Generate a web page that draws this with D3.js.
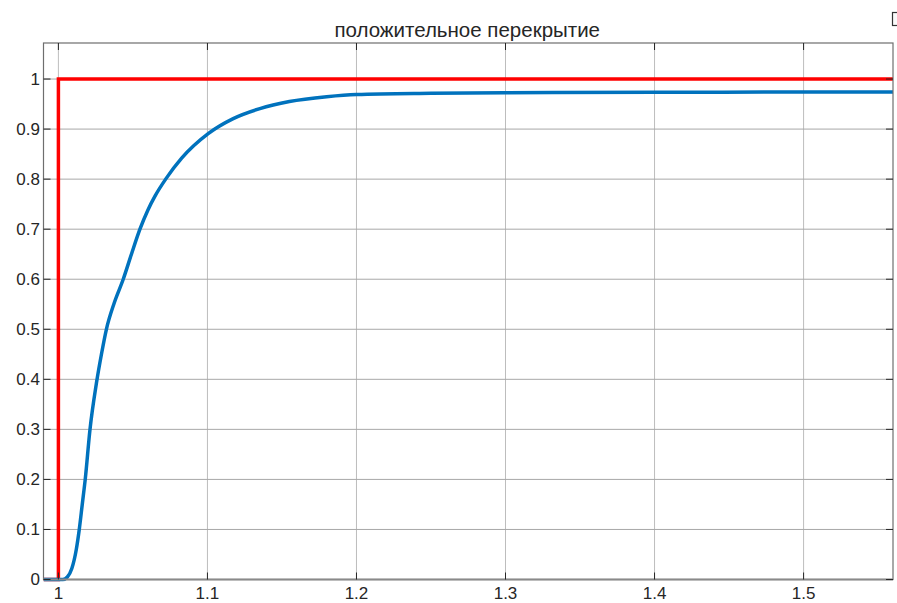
<!DOCTYPE html>
<html>
<head>
<meta charset="utf-8">
<script src="https://d3js.org/d3.v7.min.js"></script>
<style>
  html, body { margin: 0; padding: 0; background: #fff; }
  svg { display: block; }
  text { font-family: "Liberation Sans", Arial, Helvetica, sans-serif; fill: #262626; }
</style>
</head>
<body>
<svg id="chart" width="897" height="603"></svg>
<script>
// ---- data ----
const title = "положительное перекрытие";
const xTicks = [1, 1.1, 1.2, 1.3, 1.4, 1.5];
const xTickLabels = ["1", "1.1", "1.2", "1.3", "1.4", "1.5"];
const yTicks = [0, 0.1, 0.2, 0.3, 0.4, 0.5, 0.6, 0.7, 0.8, 0.9, 1];
const yTickLabels = ["0", "0.1", "0.2", "0.3", "0.4", "0.5", "0.6", "0.7", "0.8", "0.9", "1"];

// input step (red)
const stepT = [0.99, 1.0, 1.0, 1.56];
const stepV = [0, 0, 1, 1];

// response (blue)
const respT = [0.99, 1.003, 1.006, 1.009, 1.012, 1.014, 1.016, 1.018, 1.0212, 1.0255, 1.029, 1.0322, 1.0375, 1.0435, 1.049, 1.0547, 1.060, 1.0648, 1.0722, 1.0827, 1.1005, 1.1173, 1.1352, 1.155, 1.18, 1.2, 1.25, 1.3, 1.4, 1.5, 1.56];
const respV = [0, 0, 0.005, 0.022, 0.06, 0.1, 0.15, 0.2, 0.3, 0.392, 0.452, 0.5, 0.553, 0.6, 0.65, 0.7, 0.738, 0.766, 0.801, 0.842, 0.891, 0.921, 0.941, 0.955, 0.9646, 0.969, 0.9715, 0.9728, 0.9735, 0.974, 0.974];

const xDomain = [0.99, 1.56];
const yDomain = [0, 1.072];

// ---- layout ----
const L = 43.5, R = 893, T = 43, B = 579.5;
const svg = d3.select("#chart");
const x = d3.scaleLinear().domain(xDomain).range([L, R]);
const y = d3.scaleLinear().domain(yDomain).range([B, T]);

// plot background
svg.append("rect").attr("x", L).attr("y", T).attr("width", R - L).attr("height", B - T).attr("fill", "#fff");

// grid
const grid = svg.append("g");
grid.selectAll(".vg").data(xTicks).join("line")
  .attr("x1", d => x(d)).attr("x2", d => x(d)).attr("y1", T).attr("y2", B)
  .attr("stroke", "#bdbdbd").attr("stroke-width", 1);
grid.selectAll(".hg").data(yTicks).join("line")
  .attr("y1", d => y(d)).attr("y2", d => y(d)).attr("x1", L).attr("x2", R)
  .attr("stroke", "#a8a8a8").attr("stroke-width", 1);

// clip
svg.append("clipPath").attr("id", "clip").append("rect")
  .attr("x", L).attr("y", T - 5).attr("width", R - L).attr("height", B - T + 10);

const line = d3.line().x(d => x(d[0])).y(d => y(d[1]));
const stepData = stepT.map((t, i) => [t, stepV[i]]);
const respData = respT.map((t, i) => [t, respV[i]]);

const lines = svg.append("g").attr("clip-path", "url(#clip)");
lines.append("path").datum(stepData).attr("d", line)
  .attr("fill", "none").attr("stroke", "#ff0000").attr("stroke-width", 3.5);
lines.append("path").datum(respData).attr("d", line.curve(d3.curveMonotoneX))
  .attr("fill", "none").attr("stroke", "#0072bd").attr("stroke-width", 3.5);

// axes (box)
const ax = svg.append("g");
const axisColor = "#6e6e6e";
ax.append("rect").attr("x", L).attr("y", T).attr("width", R - L).attr("height", B - T)
  .attr("fill", "none").attr("stroke", axisColor).attr("stroke-width", 1.2);
ax.append("line").attr("x1", L).attr("x2", R).attr("y1", B).attr("y2", B)
  .attr("stroke", "#8a8a8a").attr("stroke-width", 2.2);

// ticks inward
const tl = 7;
ax.selectAll(".ytl").data(yTicks).join("line")
  .attr("x1", L).attr("x2", L + tl).attr("y1", d => y(d)).attr("y2", d => y(d))
  .attr("stroke", "#262626");
ax.selectAll(".ytr").data(yTicks).join("line")
  .attr("x1", R).attr("x2", R - tl).attr("y1", d => y(d)).attr("y2", d => y(d))
  .attr("stroke", "#262626");
ax.selectAll(".xtb").data(xTicks).join("line")
  .attr("x1", d => x(d)).attr("x2", d => x(d)).attr("y1", B).attr("y2", B - tl)
  .attr("stroke", "#262626");
ax.selectAll(".xtt").data(xTicks).join("line")
  .attr("x1", d => x(d)).attr("x2", d => x(d)).attr("y1", T).attr("y2", T + tl)
  .attr("stroke", "#262626");

// tick labels
ax.selectAll(".yl").data(yTicks).join("text")
  .attr("x", 40).attr("y", d => y(d)).attr("dy", "0.35em")
  .attr("text-anchor", "end").attr("font-size", 17)
  .text((d, i) => yTickLabels[i]);
ax.selectAll(".xl").data(xTicks).join("text")
  .attr("x", d => x(d)).attr("y", 598.5)
  .attr("text-anchor", "middle").attr("font-size", 17)
  .text((d, i) => xTickLabels[i]);

// title
svg.append("text").attr("x", (L + R) / 2 - 1).attr("y", 36.5)
  .attr("text-anchor", "middle").attr("font-size", 20.5)
  .text(title);

// small cut-off control at top right
svg.append("rect").attr("x", 892.5).attr("y", 12.5).attr("width", 10).attr("height", 13)
  .attr("fill", "#fafafa").attr("stroke", "#333").attr("stroke-width", 1.2);
</script>
</body>
</html>
